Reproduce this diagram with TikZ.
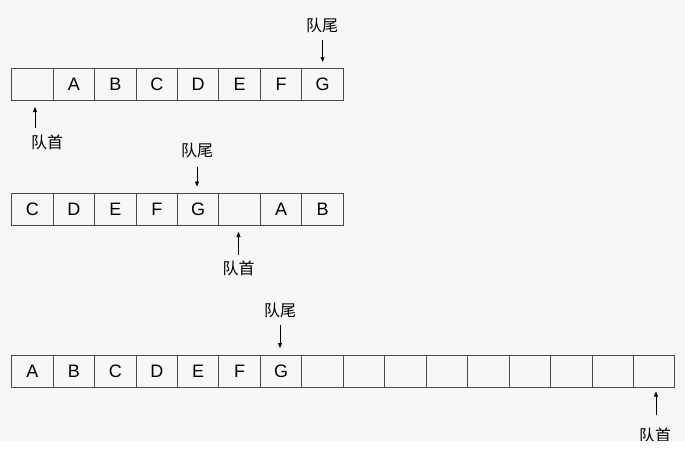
\documentclass[tikz,border=0pt]{standalone}
\usepackage{fontspec}
\setmainfont{Liberation Sans}
\newfontfamily\cjk{Noto Sans CJK SC}
\usetikzlibrary{arrows.meta}
\definecolor{bg}{HTML}{F7F7F7}
\definecolor{gridc}{HTML}{4A4A4A}
\begin{document}
\begin{tikzpicture}[x=1pt,y=-1pt,
  cell/.style={draw=gridc, line width=1pt, minimum width=41.45pt, minimum height=32pt,
    inner sep=0pt, outer sep=0pt, font=\fontsize{18}{18}\selectfont},
  lbl/.style={font=\cjk\fontsize{16}{16}\selectfont, inner sep=0pt},
  arr/.style={-{Triangle[length=5pt,width=4pt]}, line width=0.7pt, black}]
\useasboundingbox (0,0) rectangle (685,450);
\fill[bg] (0,0) rectangle (685,441);
% row 1
\foreach \t [count=\i] in {{},A,B,C,D,E,F,G}
  \node[cell] (a\i) at ({11.7+(\i-0.5)*41.45},84.5) {\t};
% row 2
\foreach \t [count=\i] in {C,D,E,F,G,{},A,B}
  \node[cell] (b\i) at ({11.7+(\i-0.5)*41.45},209.5) {\t};
% row 3
\foreach \t [count=\i] in {A,B,C,D,E,F,G,{},{},{},{},{},{},{},{},{}}
  \node[cell] (c\i) at ({11.7+(\i-0.5)*41.45},371) {\t};
% row 1 labels
\node[lbl] (t1) at (322,25) {队尾};
\coordinate (t1s) at (322.6,40);
\draw[arr, shorten >=6.5pt] (t1s) -- (t1s |- a8.north);
\node[lbl] (h1) at (47,142) {队首};
\coordinate (h1s) at (35,128);
\draw[arr, shorten >=6.5pt] (h1s) -- (h1s |- a1.south);
% row 2 labels
\node[lbl] (t2) at (197,150) {队尾};
\coordinate (t2s) at (197,167);
\draw[arr, shorten >=7pt] (t2s) -- (t2s |- b5.north);
\node[lbl] (h2) at (238.5,268) {队首};
\coordinate (h2s) at (238.5,255);
\draw[arr, shorten >=6.5pt] (h2s) -- (h2s |- b6.south);
% row 3 labels
\node[lbl] (t3) at (280,310) {队尾};
\coordinate (t3s) at (280,325);
\draw[arr, shorten >=7pt] (t3s) -- (t3s |- c7.north);
\node[lbl] (h3) at (655,435) {队首};
\coordinate (h3s) at (656,415);
\draw[arr, shorten >=4.5pt] (h3s) -- (h3s |- c16.south);
\fill[white] (0,441) rectangle (685,450);
\end{tikzpicture}
\end{document}
